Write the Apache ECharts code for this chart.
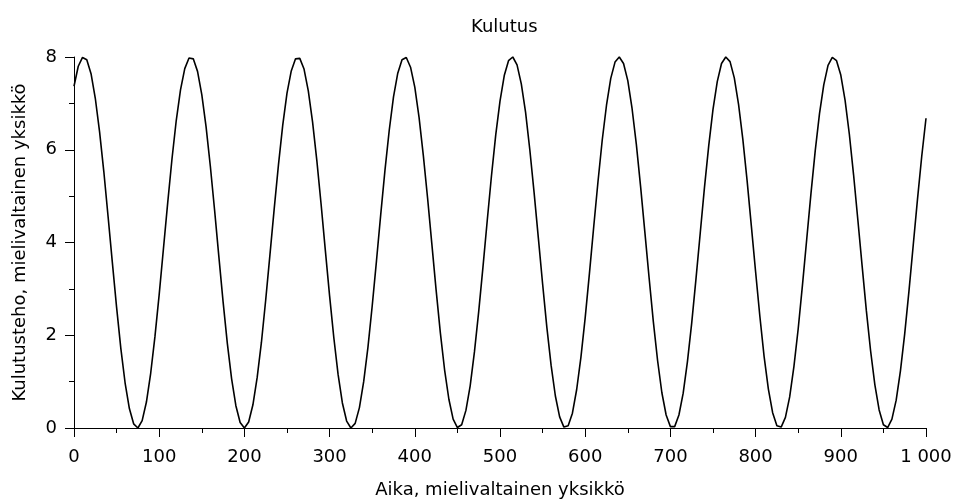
<!DOCTYPE html>
<html>
<head>
<meta charset="utf-8">
<script src="https://cdn.jsdelivr.net/npm/echarts@6/dist/echarts.min.js"></script>
<style>
html,body{margin:0;padding:0;background:#fff;}
#chart{width:956px;height:504px;}
</style>
</head>
<body>
<div id="chart"></div>
<script>
var titleText = 'Kulutus';
var xName = 'Aika, mielivaltainen yksikkö';
var yName = 'Kulutusteho, mielivaltainen yksikkö';

var aika = [
0,5,10,15,20,25,30,35,40,45,50,55,60,65,70,75,80,85,90,95,
100,105,110,115,120,125,130,135,140,145,150,155,160,165,170,175,180,185,190,195,
200,205,210,215,220,225,230,235,240,245,250,255,260,265,270,275,280,285,290,295,
300,305,310,315,320,325,330,335,340,345,350,355,360,365,370,375,380,385,390,395,
400,405,410,415,420,425,430,435,440,445,450,455,460,465,470,475,480,485,490,495,
500,505,510,515,520,525,530,535,540,545,550,555,560,565,570,575,580,585,590,595,
600,605,610,615,620,625,630,635,640,645,650,655,660,665,670,675,680,685,690,695,
700,705,710,715,720,725,730,735,740,745,750,755,760,765,770,775,780,785,790,795,
800,805,810,815,820,825,830,835,840,845,850,855,860,865,870,875,880,885,890,895,
900,905,910,915,920,925,930,935,940,945,950,955,960,965,970,975,980,985,990,995,
1000];

var kulutus = [
7.37,7.80,7.99,7.94,7.64,7.11,6.39,5.53,4.56,3.57,2.60,1.71,0.97,0.42,0.09,0.00,0.16,0.56,1.18,1.97,
2.88,3.87,4.86,5.80,6.63,7.29,7.75,7.98,7.96,7.69,7.19,6.50,5.65,4.70,3.70,2.72,1.82,1.06,0.48,0.12,
0.00,0.13,0.50,1.09,1.85,2.76,3.74,4.73,5.68,6.53,7.22,7.70,7.96,7.97,7.74,7.27,6.60,5.77,4.83,3.83,
2.85,1.94,1.15,0.54,0.15,0.00,0.10,0.44,1.00,1.74,2.63,3.60,4.60,5.56,6.42,7.14,7.65,7.94,7.99,7.78,
7.35,6.70,5.88,4.96,3.97,2.98,2.05,1.25,0.62,0.19,0.01,0.07,0.38,0.91,1.64,2.51,3.47,4.47,5.44,6.32,
7.05,7.60,7.92,8.00,7.83,7.42,6.81,6.00,5.08,4.10,3.11,2.17,1.35,0.69,0.24,0.02,0.05,0.32,0.83,1.53,
2.38,3.34,4.34,5.31,6.21,6.96,7.54,7.89,8.00,7.86,7.49,6.89,6.12,5.21,4.23,3.24,2.29,1.45,0.76,0.28,
0.03,0.03,0.28,0.75,1.43,2.26,3.21,4.20,5.19,6.09,6.87,7.47,7.86,8.00,7.90,7.55,6.98,6.23,5.34,4.36,
3.37,2.41,1.54,0.84,0.33,0.05,0.02,0.23,0.67,1.33,2.14,3.08,4.07,5.06,5.98,6.78,7.40,7.82,7.99,7.92,
7.61,7.07,6.34,5.46,4.49,3.50,2.53,1.66,0.93,0.39,0.07,0.01,0.19,0.60,1.23,2.03,2.95,3.94,4.93,5.86,
6.68];

var xTicks = [0,100,200,300,400,500,600,700,800,900,1000];
var yTicks = [0,2,4,6,8];

var data = aika.map(function(x,i){return [x,kulutus[i]];});
var font = 'DejaVu Sans';
var fs = 18;

function fmt(v){
  return String(v).replace(/\B(?=(\d{3})+(?!\d))/g,' ');
}

var chart = echarts.init(document.getElementById('chart'), null, {renderer:'canvas'});
chart.setOption({
  animation:false,
  backgroundColor:'#ffffff',
  title:{
    text:titleText,
    left:466, top:13,
    textStyle:{fontFamily:font,fontSize:fs,fontWeight:'normal',color:'#000'}
  },
  grid:{left:74,right:30,top:57,bottom:73,containLabel:false},
  xAxis:{
    type:'value',
    min:xTicks[0], max:xTicks[xTicks.length-1], interval:100,
    name:xName, nameLocation:'middle', nameGap:53,
    nameTextStyle:{fontFamily:font,fontSize:fs,color:'#000'},
    axisLine:{show:true,onZero:false,lineStyle:{color:'#000',width:1}},
    axisTick:{show:true,inside:false,length:9,lineStyle:{color:'#000',width:1}},
    minorTick:{show:true,splitNumber:2,length:5,lineStyle:{color:'#000',width:1}},
    axisLabel:{fontFamily:font,fontSize:fs,color:'#000',margin:20,formatter:fmt,showMinLabel:true,showMaxLabel:true},
    splitLine:{show:false}
  },
  yAxis:{
    type:'value',
    min:yTicks[0], max:yTicks[yTicks.length-1], interval:2,
    name:yName, nameLocation:'middle', nameGap:45,
    nameTextStyle:{fontFamily:font,fontSize:fs,color:'#000'},
    axisLine:{show:true,onZero:false,lineStyle:{color:'#000',width:1}},
    axisTick:{show:true,inside:false,length:9,lineStyle:{color:'#000',width:1}},
    minorTick:{show:true,splitNumber:2,length:5,lineStyle:{color:'#000',width:1}},
    axisLabel:{fontFamily:font,fontSize:fs,color:'#000',margin:17},
    splitLine:{show:false}
  },
  series:[{
    type:'line',
    data:data,
    smooth:false,
    showSymbol:false,
    symbol:'none',
    clip:false,
    lineStyle:{color:'#000',width:1.6}
  }]
});
</script>
</body>
</html>
